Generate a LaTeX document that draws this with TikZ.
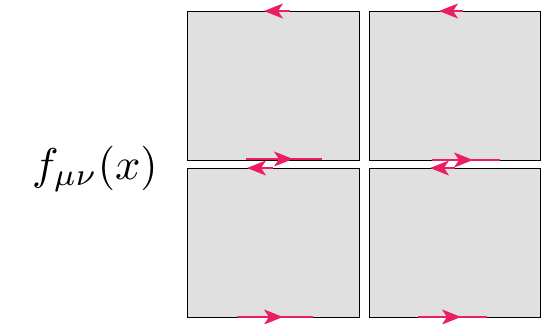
\documentclass[tikz,border=0pt]{standalone}
\usetikzlibrary{arrows.meta}
\definecolor{fluxpink}{RGB}{233,30,99}
\definecolor{plaqgray}{RGB}{224,224,224}
\tikzset{
  plaq/.style={draw=black, line width=1pt, fill=plaqgray},
  flux/.style={draw=fluxpink, line width=1.4pt},
  fluxhead/.style={flux, -{Stealth[length=19pt,width=15pt,inset=5pt]}}
}
\begin{document}
\begin{tikzpicture}[x=1pt,y=-1pt]
  \useasboundingbox (0,0) rectangle (544,324);
  % plaquettes
  \draw[plaq] (187,11) rectangle (359,160);
  \draw[plaq] (369,11) rectangle (540,160);
  \draw[plaq] (187,168) rectangle (359,317);
  \draw[plaq] (369,168) rectangle (540,317);
  % top edges
  \draw[fluxhead] (290,11) -- (264,11);
  \draw[fluxhead] (463,11) -- (439,11);
  % middle edges
  \draw[flux] (246,159) -- (322,159);
  \draw[fluxhead] (270,159) -- (293,159);
  \draw[fluxhead] (273,168) -- (247,168);
  \draw[flux] (432,160) -- (500,160);
  \draw[fluxhead] (450,160) -- (473,160);
  \draw[fluxhead] (455,168) -- (430,168);
  % bottom edges
  \draw[flux] (237,317) -- (313,317);
  \draw[fluxhead] (260,317) -- (283,317);
  \draw[flux] (418,317) -- (487,317);
  \draw[fluxhead] (438,317) -- (461,317);
  % label
  \node[scale=4.45, inner sep=0pt] (lbl) at (95,169) {$f_{\mu\nu}(x)$};
\end{tikzpicture}
\end{document}
